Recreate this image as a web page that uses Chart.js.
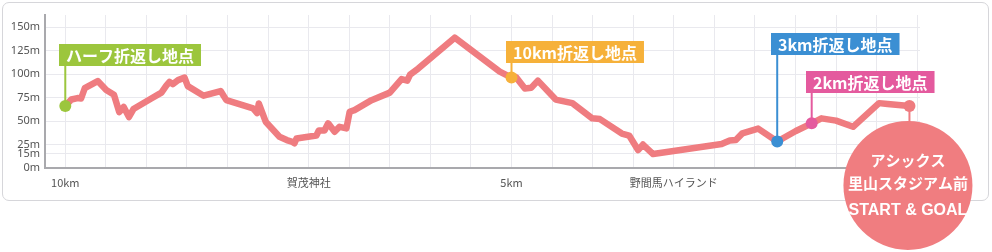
<!DOCTYPE html>
<html>
<head>
<meta charset="utf-8">
<script src="https://cdn.jsdelivr.net/npm/chart.js@4"></script>
<style>
  html, body { margin: 0; padding: 0; background: #fff; }
  #wrap { position: relative; width: 992px; height: 252px; }
  .card { position: absolute; left: 2px; top: 2px; width: 985px; height: 197px; border: 1px solid #d6d6da; border-radius: 7px; background: #fff; }
  canvas { position: absolute; left: 0; top: 0; }
</style>
</head>
<body>
<div id="wrap">
  <div class="card"></div>
  <canvas id="profile" width="992" height="252"></canvas>
</div>
<script>
// course profile: x = grid step along the course, y = elevation (m)
const profileX = [0, 0.15, 0.30, 0.39, 0.48, 0.80, 1.01, 1.20, 1.33, 1.44, 1.57, 1.68, 2.12, 2.37, 2.49, 2.57, 2.65, 2.78, 2.94, 3.02,
  3.41, 3.83, 3.97, 4.63, 4.73, 4.77, 4.94, 5.28, 5.46, 5.58, 5.65, 5.70, 6.19, 6.25, 6.39, 6.48, 6.64, 6.76, 6.93, 7.01,
  7.13, 7.55, 8.00, 8.29, 8.43, 8.50, 8.70, 9.60, 10.71, 11.00, 11.11, 11.33, 11.49, 11.65, 12.09, 12.50, 12.99, 13.18, 13.72, 13.90,
  14.12, 14.24, 14.49, 16.18, 16.38, 16.53, 16.69, 17.08, 17.55, 18.01, 18.40, 18.64, 19.00, 19.42, 20.06, 20.27, 20.81];
const profileElev = [66, 73, 74.5, 74, 85, 92.6, 83, 78, 59.6, 65, 54.3, 62.8, 74, 80.3, 87.8, 91.8, 89.4, 93.6, 96.3, 87.2,
  77, 82, 72.3, 63.5, 58.5, 68.8, 49.3, 33.3, 29.8, 28.2, 26.3, 31.4, 34.6, 39.9, 39.9, 47.6, 38.6, 43.9, 42.2, 59.9,
  61.7, 72.3, 80.3, 94.7, 93.1, 99.5, 105.9, 138.8, 102.7, 96.3, 96.8, 84.8, 85.6, 93.1, 72.9, 69.1, 52.9, 52.1, 36.7, 34.6,
  19.1, 25, 14.9, 25.5, 29.3, 29.8, 36.9, 42, 28.2, 39.4, 47.6, 52.9, 50.5, 43.9, 69.1, 68.1, 66];

// turning points
const markerNames = ["ハーフ折返し地点", "10km折返し地点", "3km折返し地点", "2km折返し地点", "goal"];
const markerX = [0, 11.0, 17.55, 18.40, 20.81];
const markerElev = [66, 96.3, 28.2, 47.6, 66];
const markerColors = ["#9cc63d", "#f6b13a", "#3b8fd3", "#e45a9e", "#ef7b7f"];
const calloutTop = [44, 41, 33, 71];

const goalLines = ["アシックス", "里山スタジアム前", "START & GOAL"];

const yTicks = [0, 15, 25, 50, 75, 100, 125, 150];
const xTickLabels = { 0: "10km", 6: "賀茂神社", 11: "5km", 15: "野間馬ハイランド" };

const lineColor = "#ef7c80";
const cjk = "'Noto Sans CJK JP', 'Noto Sans', sans-serif";

const calloutPlugin = {
  id: "callouts",
  beforeDatasetsDraw(chart) {
    const meta = chart.getDatasetMeta(0);
    const ctx = chart.ctx;
    ctx.save();
    ctx.lineWidth = 2;
    calloutTop.forEach((top, i) => {
      const pt = meta.data[i];
      ctx.strokeStyle = markerColors[i];
      ctx.beginPath();
      ctx.moveTo(pt.x, top + 22);
      ctx.lineTo(pt.x, pt.y);
      ctx.stroke();
    });
    ctx.restore();
  },
  afterDatasetsDraw(chart) {
    const meta = chart.getDatasetMeta(0);
    const ctx = chart.ctx;
    ctx.save();
    ctx.font = "bold 16px " + cjk;
    ctx.textBaseline = "middle";
    calloutTop.forEach((top, i) => {
      const pt = meta.data[i];
      const w = ctx.measureText(markerNames[i]).width + 14;
      ctx.fillStyle = markerColors[i];
      ctx.fillRect(Math.round(pt.x - 6), top, w, 22);
      ctx.fillStyle = "#fff";
      ctx.fillText(markerNames[i], Math.round(pt.x + 1), top + 11.5);
    });
    ctx.restore();
  },
  afterDraw(chart) {
    const meta = chart.getDatasetMeta(0);
    const goal = meta.data[4];
    const ctx = chart.ctx;
    const cx = goal.x - 1.5, cy = 185.5, r = 64.5;
    ctx.save();
    ctx.strokeStyle = lineColor;
    ctx.lineWidth = 2;
    ctx.beginPath();
    ctx.moveTo(goal.x, goal.y);
    ctx.lineTo(goal.x, cy - r + 1);
    ctx.stroke();
    ctx.fillStyle = "#f07d80";
    ctx.beginPath();
    ctx.arc(cx, cy, r, 0, Math.PI * 2);
    ctx.fill();
    ctx.fillStyle = "#fff";
    ctx.textAlign = "center";
    ctx.textBaseline = "middle";
    ctx.font = "bold 15px " + cjk;
    ctx.fillText(goalLines[0], cx, 160);
    ctx.fillText(goalLines[1], cx, 183);
    ctx.font = "bold 16px 'Liberation Sans', Arial, sans-serif";
    ctx.fillText(goalLines[2], cx, 211);
    ctx.restore();
  },
};

new Chart(document.getElementById("profile"), {
  type: "line",
  data: {
    datasets: [
      {
        type: "scatter",
        data: markerX.map((x, i) => ({ x, y: markerElev[i] })),
        pointRadius: 6,
        pointBackgroundColor: markerColors,
        pointBorderWidth: 0,
        showLine: false,
      },
      {
        data: profileX.map((x, i) => ({ x, y: profileElev[i] })),
        borderColor: lineColor,
        borderWidth: 6.5,
        borderJoinStyle: "round",
        borderCapStyle: "round",
        pointRadius: 0,
        tension: 0,
        fill: false,
      },
    ],
  },
  options: {
    responsive: false,
    animation: false,
    devicePixelRatio: 1,
    layout: { padding: { top: 15, right: 72, left: 0, bottom: 0 } },
    plugins: { legend: { display: false }, tooltip: { enabled: false } },
    scales: {
      x: {
        type: "linear",
        min: -0.5,
        max: 21.07,
        afterBuildTicks: (s) => { s.ticks = Array.from({ length: 22 }, (_, i) => ({ value: i })); },
        afterFit: (s) => { s.height = 84; },
        grid: { color: "#e9e9ee", drawTicks: false },
        border: { color: "#a9a9ad", width: 2 },
        ticks: {
          autoSkip: false,
          maxRotation: 0,
          padding: 8,
          color: "#555",
          font: { size: 11, family: cjk },
          callback: (v) => xTickLabels[v] || "",
        },
      },
      y: {
        min: 0,
        max: 163,
        afterBuildTicks: (s) => { s.ticks = yTicks.map((v) => ({ value: v })); },
        afterFit: (s) => { s.width = 45; },
        grid: { color: "#e9e9ee", drawTicks: false },
        border: { color: "#a9a9ad", width: 2 },
        ticks: {
          padding: 5,
          color: "#555",
          font: { size: 11, family: "'Noto Sans', sans-serif" },
          callback: (v) => v + "m",
        },
      },
    },
  },
  plugins: [calloutPlugin],
});
</script>
</body>
</html>
